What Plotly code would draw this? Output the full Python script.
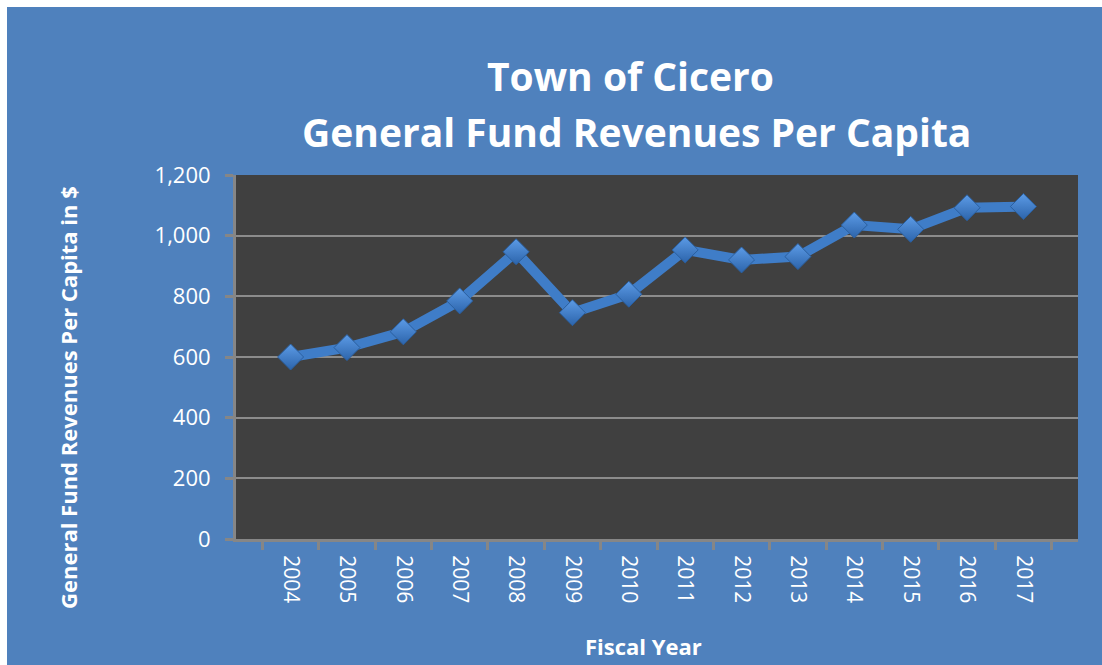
import plotly.graph_objects as go

years = ["2004", "2005", "2006", "2007", "2008", "2009", "2010",
         "2011", "2012", "2013", "2014", "2015", "2016", "2017"]
revenue_per_capita = [600, 631, 683, 785, 947, 746, 807,
                      953, 920, 931, 1035, 1021, 1092, 1096]
y_ticks = [0, 200, 400, 600, 800, 1000, 1200]

W, H = 1102, 665
L, R, T, B = 236, W - 1078, 175, H - 539
PW, PH = W - L - R, H - T - B
EDGE = 7  # white border at the top and left of the reference


def px(x):
    return (x - L) / PW


def py(y):
    return (H - B - y) / PH


BLUE = "#4f81bd"
FONT = "Open Sans"

fig = go.Figure()
fig.add_trace(go.Scatter(
    x=years, y=revenue_per_capita, mode="lines+markers",
    line=dict(color="#3f7dc8", width=10),
    marker=dict(symbol="diamond", size=20, color="#5c9be6",
                gradient=dict(type="vertical", color="#2c64ab"),
                line=dict(color="#2a5f9f", width=1)),
    showlegend=False, hoverinfo="x+y",
))

fig.update_layout(
    width=W, height=H,
    margin=dict(l=L, r=R, t=T, b=B, pad=0),
    paper_bgcolor=BLUE, plot_bgcolor="#404040",
    font=dict(family=FONT, color="white"),
    xaxis=dict(type="category", tickson="boundaries", ticks="outside",
               ticklen=8, tickwidth=2.5, tickcolor="#868686",
               showline=True, linecolor="#868686", linewidth=3,
               showgrid=False, tickangle=90, ticklabelstandoff=9,
               tickfont=dict(family=FONT, size=21, color="white")),
    yaxis=dict(range=[0, 1200], tickvals=y_ticks, tickformat=",",
               ticks="outside", ticklen=8, tickwidth=2.5, tickcolor="#868686",
               showline=True, linecolor="#868686", linewidth=3,
               showgrid=True, gridcolor="#8c8c8c", gridwidth=2,
               zeroline=False, ticklabelstandoff=10,
               tickfont=dict(family=FONT, size=22, color="white")),
    shapes=[
        dict(type="rect", xref="paper", yref="paper", x0=px(-2), x1=px(EDGE),
             y0=py(H + 2), y1=py(-2), fillcolor="white", line_width=0, layer="below"),
        dict(type="rect", xref="paper", yref="paper", x0=px(-2), x1=px(W + 2),
             y0=py(EDGE), y1=py(-2), fillcolor="white", line_width=0, layer="below"),
    ],
    annotations=[
        dict(text="<b>Town of Cicero</b>", xref="paper", yref="paper",
             x=px(630), y=py(75), xanchor="center", yanchor="middle",
             showarrow=False, font=dict(family=FONT, size=39, color="white")),
        dict(text="<b>General Fund Revenues Per Capita</b>", xref="paper", yref="paper",
             x=px(636), y=py(131), xanchor="center", yanchor="middle",
             showarrow=False, font=dict(family=FONT, size=39, color="white")),
        dict(text="<b>General Fund Revenues Per Capita in $</b>", xref="paper", yref="paper",
             x=px(68), y=py(398), xanchor="center", yanchor="middle", textangle=-90,
             showarrow=False, font=dict(family=FONT, size=22, color="white")),
        dict(text="<b>Fiscal Year</b>", xref="paper", yref="paper",
             x=px(643), y=py(646), xanchor="center", yanchor="middle",
             showarrow=False, font=dict(family=FONT, size=22, color="white")),
    ],
)

fig.write_html(
    "out.html",
    config={"displayModeBar": False},
    post_script="document.documentElement.style.overflow='hidden';"
                "document.body.style.overflow='hidden';"
                "document.body.style.margin='0';",
)
